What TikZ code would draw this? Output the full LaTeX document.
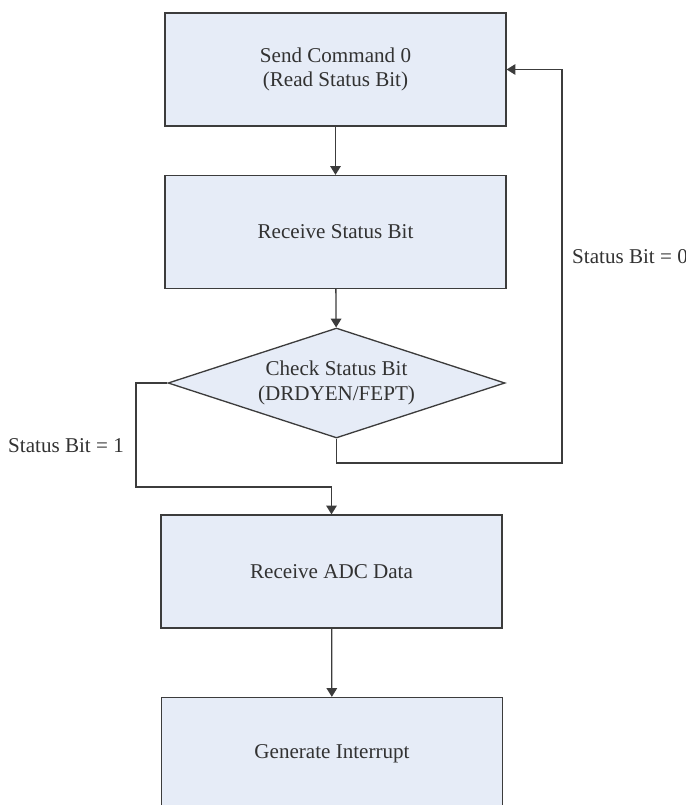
\documentclass[tikz,border=0pt]{standalone}
\usepackage{fontspec}
\setmainfont{Liberation Serif}
\usetikzlibrary{shapes.geometric,arrows.meta}
\definecolor{boxfill}{RGB}{230,236,247}
\definecolor{boxline}{RGB}{60,60,60}
\definecolor{txt}{RGB}{50,50,50}
\begin{document}
\begin{tikzpicture}[x=0.02cm,y=-0.02cm,
		every node/.style={text=txt,font=\fontsize{12}{14}\selectfont},
		stepbox/.style={draw=boxline,fill=boxfill,line width=0.75pt,minimum width=6.82cm,minimum height=2.26cm,align=center},
		checkbox/.style={diamond,aspect=3.06,draw=boxline,fill=boxfill,line width=0.75pt,inner sep=0pt,minimum width=6.74cm,minimum height=2.2cm,align=center},
		flow/.style={draw=boxline,line width=0.75pt,-{Triangle[length=5pt,width=6pt]}}]
			\useasboundingbox (0,0) rectangle (686,805);
			\clip (0,0) rectangle (686,805);
			\node[stepbox] (cmd) at (335.5,69.5){Send Command 0\\(Read Status Bit)};
			\node[stepbox] (recv) at (335.5,232){Receive Status Bit};
			\node[checkbox] (check) at (336.5,383){Check Status Bit\\(DRDYEN/FEPT)};
			\node[stepbox] (adc) at (331.5,571.5){Receive ADC Data};
			\node[stepbox] (irq) at (332,754){Generate Interrupt};
			\coordinate (yes) at (136,487);
			\coordinate (no) at (562,463);
			\draw[flow] (cmd) -- (recv);
			\draw[flow] (recv) -- (check);
			\draw[flow] (check.west) -| (yes) -| (adc.north);
			\draw[flow] (check.south) |- (no) |- (cmd.east);
			\draw[flow] (adc) -- (irq);
			\node[anchor=west] (stat0) at (566,257){Status Bit = 0};
			\node[anchor=east] (stat1) at (130,446){Status Bit = 1};
		\end{tikzpicture}
\end{document}
